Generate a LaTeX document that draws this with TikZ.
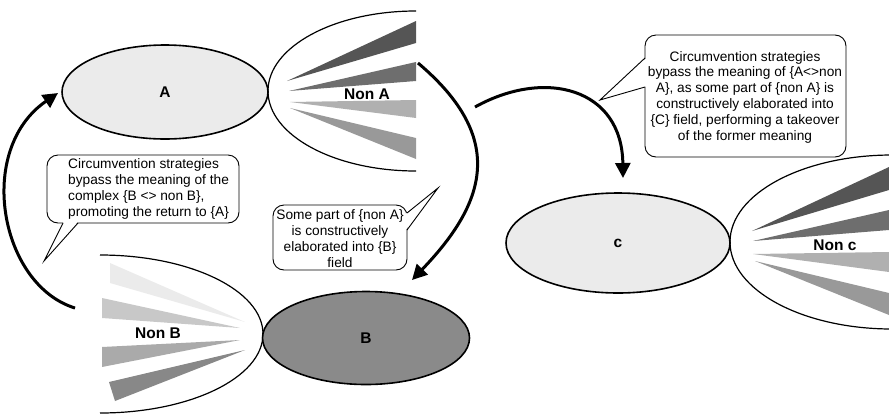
\documentclass[tikz,border=0pt]{standalone}
\usepackage{fontspec}
\setmainfont{Liberation Sans}
\usetikzlibrary{shapes.geometric,arrows.meta}
\definecolor{coreA}{HTML}{EBEBEB}
\definecolor{coreB}{HTML}{8A8A8A}
\definecolor{rayk}{HTML}{555555}
\definecolor{rayd}{HTML}{6E6E6E}
\definecolor{rayl}{HTML}{B0B0B0}
\definecolor{raym}{HTML}{999999}
\definecolor{rayw}{HTML}{EBEBEB}
\definecolor{rayv}{HTML}{C8C8C8}
\definecolor{rayu}{HTML}{AAAAAA}
\definecolor{rayt}{HTML}{888888}
\begin{document}
\begin{tikzpicture}[x=1pt,y=-1pt,
  core/.style={ellipse, draw, line width=1.6pt, inner sep=0pt, font=\fontsize{15.5}{18}\selectfont\bfseries},
  halfline/.style={line width=1.2pt},
  lbl/.style={font=\fontsize{15.5}{18}\selectfont\bfseries, inner sep=0pt},
  flow/.style={line width=3pt, -{Triangle[length=15pt,width=15pt]}},
  bubble/.style={draw, line width=0.9pt, fill=white, rounded corners=11pt, inner sep=0pt},
  tailfill/.style={fill=white},
  tailline/.style={line width=0.9pt, line join=miter},
  btext/.style={font=\fontsize{13.7}{15.8}\selectfont, inner sep=0pt}]
\useasboundingbox (0,0) rectangle (889,413);

% ---- Non A ----
\fill[rayk] (287,81) -- (416,21) -- (416,43) -- cycle;
\fill[rayd] (289,91) -- (416,62) -- (416,81) -- cycle;
\fill[rayl] (290,102) -- (416,100) -- (416,118) -- cycle;
\fill[raym] (290,108) -- (416,138) -- (416,159) -- cycle;
\draw[halfline] (416,11) arc[start angle=90, end angle=270, x radius=148pt, y radius=80pt];
\node[lbl] (nonA) at (367,94) {Non A};

% ---- Non B ----
\fill[rayw] (110,263) -- (110,283) -- (245,322) -- cycle;
\fill[rayv] (102,298) -- (102,318) -- (240,328) -- cycle;
\fill[rayu] (102,347) -- (102,367) -- (240,340) -- cycle;
\fill[rayt] (109,382) -- (115,401) -- (245,350) -- cycle;
\draw[halfline] (100,255) arc[start angle=90, end angle=-90, x radius=163pt, y radius=79pt];
\node[lbl] (nonB) at (158,333) {Non B};

% ---- Non c ----
\fill[rayk] (752,231) -- (889,167) -- (889,190) -- cycle;
\fill[rayd] (753,241) -- (889,210) -- (889,230) -- cycle;
\fill[rayl] (753,254) -- (889,252) -- (889,272) -- cycle;
\fill[raym] (755,261) -- (889,293) -- (889,315) -- cycle;
\draw[halfline] (892,155) arc[start angle=90, end angle=270, x radius=162pt, y radius=87pt];
\node[lbl] (nonC) at (835,245) {Non c};

% ---- cores ----
\node[core, fill=coreA, minimum width=206pt, minimum height=94pt] (A) at (165,92) {A};
\node[core, fill=coreB, minimum width=207pt, minimum height=93pt] (B) at (366,338) {B};
\node[core, fill=coreA, minimum width=224pt, minimum height=100pt] (C) at (618,243) {c};

% ---- arrows ----
\coordinate (s1) at (75,308);
\coordinate (e1) at (58,93);
\draw[flow] (s1) .. controls (0,285) and (-25,150) .. (e1);
\coordinate (s2) at (418,63);
\coordinate (e2) at (412,280);
\draw[flow] (s2) .. controls (508,139) and (485,204) .. (e2);
\coordinate (s3) at (475,107);
\coordinate (e3) at (623,178);
\draw[flow] (s3) .. controls (545,68) and (622,88) .. (e3);

% ---- bubble 1 ----
\node[bubble, minimum width=192pt, minimum height=68pt] (b1) at (143,189) {};
\fill[tailfill] (63.5,222) -- (44,261) -- (77.5,222) -- cycle;
\draw[tailline] (63,223) -- (44,261) -- (78,223);
\node[btext, align=left, anchor=west] (t1) at (68,189) {Circumvention strategies\\bypass the meaning of the\\complex \{B <> non B\},\\promoting the return to \{A\}};

% ---- bubble 2 ----
\node[bubble, minimum width=134pt, minimum height=65pt] (b2) at (340,237.5) {};
\fill[tailfill] (406,213.5) -- (438,188) -- (406,229.5) -- cycle;
\draw[tailline] (407,213) -- (438,188) -- (407,230);
\node[btext, align=center] (t2) at (340,238.5) {Some part of \{non A\}\\is constructively\\elaborated into \{B\}\\field};

% ---- bubble 3 ----
\node[bubble, minimum width=201pt, minimum height=122pt] (b3) at (745.5,96) {};
\fill[tailfill] (646,58.5) -- (600,100) -- (646,86.5) -- cycle;
\draw[tailline] (645,58) -- (600,100) -- (645,87);
\node[btext, align=center] (t3) at (745,97) {Circumvention strategies\\bypass the meaning of \{A<>non\\A\}, as some part of \{non A\} is\\constructively elaborated into\\\{C\} field, performing a takeover\\of the former meaning};
\end{tikzpicture}
\end{document}
